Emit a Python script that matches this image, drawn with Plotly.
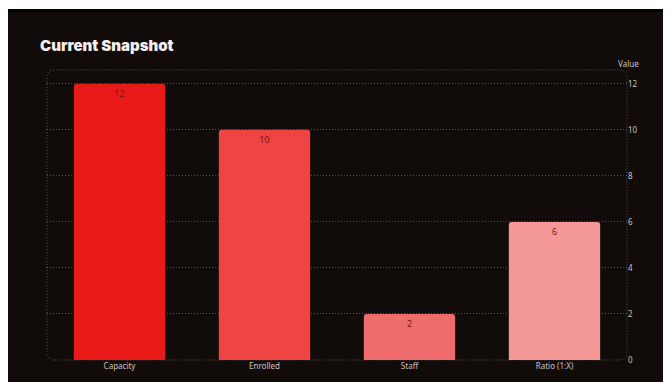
import plotly.graph_objects as go

categories = ["Capacity", "Enrolled", "Staff", "Ratio (1:X)"]
values = [12, 10, 2, 6]
bar_colors = ["#e81a18", "#ee4444", "#f06b6b", "#f39797"]
title_text = "Current Snapshot"
axis_title = "Value"

# page body adds an 8px offset; figure sized so the dark card lands where the reference has it
OFF = 8
W, H = 662, 374
ml, mr, mt, mb = 47 - OFF, 43, 70 - OFF, 22
pw, ph = W - ml - mr, H - mt - mb

def px_x(x):
    return (x - OFF - ml) / pw

def px_y(y):
    return (H - mb - (y - OFF)) / ph

fig = go.Figure(go.Bar(
    x=categories, y=values,
    marker=dict(color=bar_colors, line=dict(width=0), cornerradius=3),
    width=0.63,
    text=[str(v) for v in values],
    textposition="inside", insidetextanchor="end",
    textfont=dict(color="#7a1515", size=9, family="Noto Sans"),
    hoverinfo="skip",
))

shapes = []
# thin white + black frame on top like the screenshot
shapes.append(dict(type="rect", xref="paper", yref="paper", layer="below",
                   x0=px_x(OFF), x1=px_x(OFF + W), y0=px_y(OFF), y1=px_y(9),
                   fillcolor="white", line=dict(width=0)))
shapes.append(dict(type="rect", xref="paper", yref="paper", layer="below",
                   x0=px_x(OFF), x1=px_x(OFF + W), y0=px_y(9), y1=px_y(12),
                   fillcolor="#050303", line=dict(width=0)))

# rounded dotted plot border
rx, ry = 8 / pw, 8 / ph
path = (f"M {rx},0 L {1-rx},0 Q 1,0 1,{ry} L 1,{1-ry} Q 1,1 {1-rx},1 "
        f"L {rx},1 Q 0,1 0,{1-ry} L 0,{ry} Q 0,0 {rx},0 Z")
shapes.append(dict(type="path", xref="paper", yref="paper", path=path, layer="below",
                   line=dict(color="rgba(255,255,255,0.30)", width=1, dash="1px,2px")))

fig.update_layout(
    width=W, height=H,
    margin=dict(l=ml, r=mr, t=mt, b=mb),
    paper_bgcolor="#110b09",
    plot_bgcolor="rgba(0,0,0,0)",
    showlegend=False,
    shapes=shapes,
    title=dict(text=title_text, x=(40 - OFF) / W, xref="container", xanchor="left",
               y=1 - (46 - OFF) / H, yref="container", yanchor="middle",
               font=dict(family="Inter", size=15, weight=900, color="#f4eeee")),
    xaxis=dict(showgrid=False, zeroline=False, showline=False, ticks="",
               tickfont=dict(family="Noto Sans", size=8, color="#c8c4c4")),
    yaxis=dict(side="right", range=[0, 12.6], dtick=2, showgrid=True,
               gridcolor="rgba(255,255,255,0.30)", griddash="1px,2px", gridwidth=1,
               zeroline=False, showline=False, ticks="",
               tickfont=dict(family="Noto Sans", size=8, color="#c8c4c4")),
    annotations=[dict(text=axis_title, xref="paper", yref="paper",
                      x=px_x(629), y=px_y(63), showarrow=False,
                      xanchor="center", yanchor="middle",
                      font=dict(family="Noto Sans", size=8, color="#c8c4c4"))],
)

fig.write_html("out.html")
